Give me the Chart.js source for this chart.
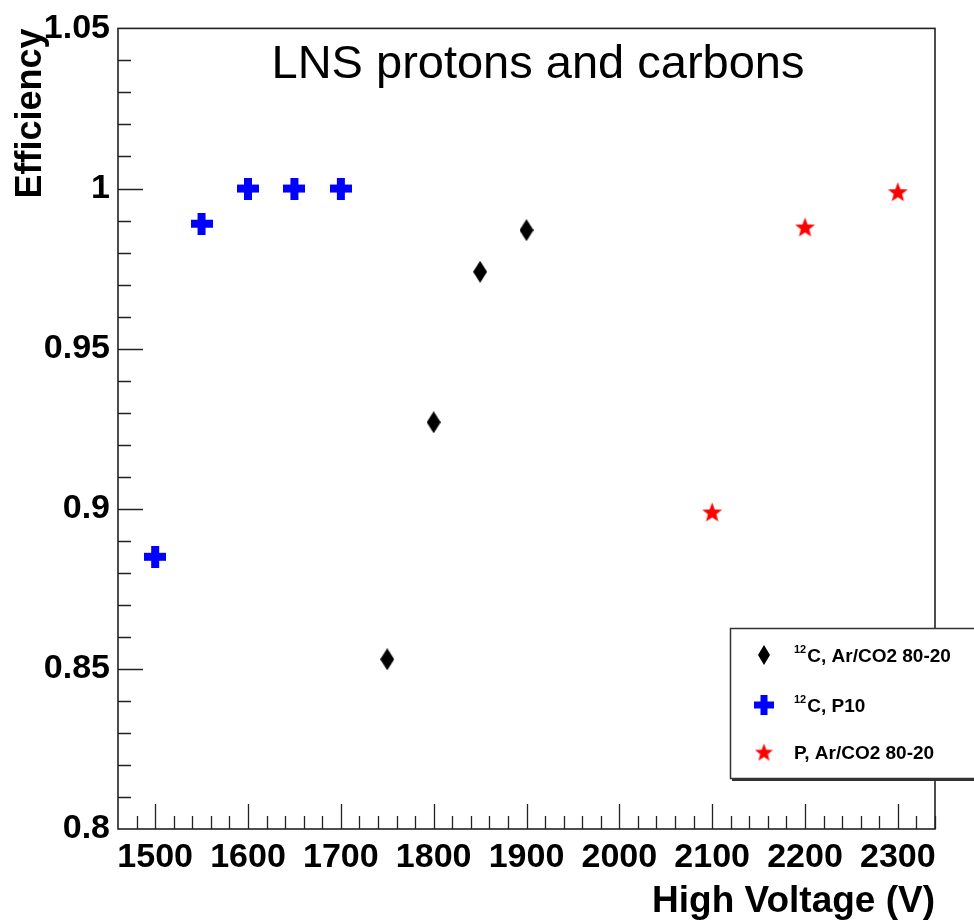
<!DOCTYPE html>
<html>
<head>
<meta charset="utf-8">
<style>
  html, body { margin: 0; padding: 0; background: #fff; }
  #hvChart { display: block; }
</style>
<script src="https://cdn.jsdelivr.net/npm/chart.js@4.4.0/dist/chart.umd.min.js"></script>
</head>
<body>
<canvas id="hvChart" width="974" height="924"></canvas>
<script>
'use strict';

// data
const hvCarbonArCO2 = [1750, 1800, 1850, 1900];
const effCarbonArCO2 = [0.853, 0.927, 0.974, 0.987];

const hvCarbonP10 = [1500, 1550, 1600, 1650, 1700];
const effCarbonP10 = [0.885, 0.989, 1.0, 1.0, 1.0];

const hvProtonArCO2 = [2100, 2200, 2300];
const effProtonArCO2 = [0.899, 0.988, 0.999];

const xTickValues = [1500, 1600, 1700, 1800, 1900, 2000, 2100, 2200, 2300];
const yTickValues = [0.8, 0.85, 0.9, 0.95, 1, 1.05];

const FONT = '"Liberation Sans", Arial, Helvetica, sans-serif';

// marker images (ROOT style markers)
function makeDiamond(w, h) {
    const c = document.createElement('canvas');
    c.width = w; c.height = h;
    const g = c.getContext('2d');
    g.fillStyle = '#000';
    g.beginPath();
    g.moveTo(w / 2, 0);
    g.lineTo(w, h / 2);
    g.lineTo(w / 2, h);
    g.lineTo(0, h / 2);
    g.closePath();
    g.fill();
    return c;
}

function makeCross(s, t) {
    const c = document.createElement('canvas');
    c.width = s; c.height = s;
    const g = c.getContext('2d');
    g.fillStyle = '#0000ff';
    g.fillRect((s - t) / 2, 0, t, s);
    g.fillRect(0, (s - t) / 2, s, t);
    return c;
}

function makeStar(s) {
    const c = document.createElement('canvas');
    c.width = s; c.height = s;
    const g = c.getContext('2d');
    const R = s / 2, r = R * 0.42;
    g.fillStyle = '#ff0000';
    g.beginPath();
    for (let i = 0; i < 10; i++) {
        const a = -Math.PI / 2 + i * Math.PI / 5;
        const rad = i % 2 === 0 ? R : r;
        const px = R + rad * Math.cos(a);
        const py = R + rad * Math.sin(a) + 1;
        if (i === 0) g.moveTo(px, py); else g.lineTo(px, py);
    }
    g.closePath();
    g.fill();
    return c;
}

const diamondImg = makeDiamond(14, 22);
const crossImg = makeCross(22, 8);
const starImg = makeStar(21);

const legendDiamond = makeDiamond(12, 20);
const legendCross = makeCross(20, 7);
const legendStar = makeStar(19);

function toPoints(xs, ys) {
    return xs.map((x, i) => ({ x: x, y: ys[i] }));
}

// frame, inward ticks
const rootFrame = {
    id: 'rootFrame',
    afterDatasetsDraw(chart) {
        const ctx = chart.ctx;
        const a = chart.chartArea;
        const xs = chart.scales.x;
        const ys = chart.scales.y;
        ctx.save();
        ctx.strokeStyle = '#222';
        ctx.lineWidth = 1.6;
        ctx.strokeRect(a.left, a.top, a.right - a.left, a.bottom - a.top);

        ctx.lineWidth = 1.3;
        ctx.beginPath();
        for (let v = 1480; v <= 2340; v += 20) {
            const px = Math.round(xs.getPixelForValue(v)) + 0.5;
            const len = v % 100 === 0 ? 25 : 13;
            ctx.moveTo(px, a.bottom);
            ctx.lineTo(px, a.bottom - len);
        }
        for (let i = 81; i <= 104; i++) {
            const v = i / 100;
            const py = Math.round(ys.getPixelForValue(v)) + 0.5;
            const len = i % 5 === 0 ? 25 : 13;
            ctx.moveTo(a.left, py);
            ctx.lineTo(a.left + len, py);
        }
        ctx.stroke();

        // title
        ctx.fillStyle = '#000';
        ctx.font = '47px ' + FONT;
        ctx.textAlign = 'center';
        ctx.textBaseline = 'alphabetic';
        ctx.fillText('LNS protons and carbons', 538, 78);
        ctx.restore();
    },
    afterDraw(chart) {
        const ctx = chart.ctx;
        ctx.save();
        // legend box
        ctx.fillStyle = '#fff';
        ctx.fillRect(730, 628, 250, 151);
        ctx.strokeStyle = '#333';
        ctx.lineWidth = 1.5;
        ctx.strokeRect(730.5, 628.5, 250, 150);
        ctx.lineWidth = 2;
        ctx.beginPath();
        ctx.moveTo(732, 780);
        ctx.lineTo(980, 780);
        ctx.stroke();

        const entries = [
            { img: legendDiamond, y: 655, text: 'C, Ar/CO2 80-20', sup: '12' },
            { img: legendCross, y: 705, text: 'C, P10', sup: '12' },
            { img: legendStar, y: 752, text: 'P, Ar/CO2 80-20', sup: '' }
        ];
        entries.forEach(e => {
            ctx.drawImage(e.img, 764 - e.img.width / 2, e.y - e.img.height / 2);
            let tx = 794;
            ctx.fillStyle = '#000';
            ctx.textAlign = 'left';
            ctx.textBaseline = 'alphabetic';
            if (e.sup) {
                ctx.font = 'bold 11px ' + FONT;
                ctx.fillText(e.sup, tx, e.y - 2);
                tx += ctx.measureText(e.sup).width + 1;
            }
            ctx.font = 'bold 19px ' + FONT;
            ctx.fillText(e.text, tx, e.y + 7);
        });
        ctx.restore();
    }
};

const yLabel = v => String(Math.round(v * 100) / 100);
const xLabel = v => String(v);

const hvChart = new Chart(document.getElementById('hvChart'), {
    type: 'scatter',
    data: {
        datasets: [
            {
                label: '12C, Ar/CO2 80-20',
                data: toPoints(hvCarbonArCO2, effCarbonArCO2),
                pointStyle: diamondImg,
            },
            {
                label: '12C, P10',
                data: toPoints(hvCarbonP10, effCarbonP10),
                pointStyle: crossImg,
            },
            {
                label: 'P, Ar/CO2 80-20',
                data: toPoints(hvProtonArCO2, effProtonArCO2),
                pointStyle: starImg,
            },
        ],
    },
    options: {
        responsive: false,
        animation: false,
        devicePixelRatio: 1,
        layout: {
            padding: { top: 26, right: 39, left: 0, bottom: 0 },
        },
        plugins: {
            legend: { display: false },
            tooltip: { enabled: false },
        },
        scales: {
            x: {
                type: 'linear',
                min: 1460,
                max: 2340,
                border: { display: false },
                grid: { display: false, drawTicks: false },
                afterBuildTicks: scale => {
                    scale.ticks = xTickValues.map(v => ({ value: v }));
                },
                afterFit: scale => {
                    scale.height = 95;
                },
                ticks: {
                    color: '#000',
                    padding: 8,
                    maxRotation: 0,
                    autoSkip: false,
                    callback: xLabel,
                    font: { family: FONT, size: 34, weight: 'bold' },
                },
                title: {
                    display: true,
                    text: 'High Voltage (V)',
                    align: 'end',
                    color: '#000',
                    padding: { top: 0, bottom: 0 },
                    font: { family: FONT, size: 37, weight: 'bold' },
                },
            },
            y: {
                type: 'linear',
                min: 0.8,
                max: 1.05,
                border: { display: false },
                grid: { display: false, drawTicks: false },
                afterBuildTicks: scale => {
                    scale.ticks = yTickValues.map(v => ({ value: v }));
                },
                afterFit: scale => {
                    scale.width = 118;
                },
                ticks: {
                    color: '#000',
                    padding: 8,
                    autoSkip: false,
                    callback: yLabel,
                    font: { family: FONT, size: 34, weight: 'bold' },
                },
                title: {
                    display: true,
                    text: 'Efficiency',
                    align: 'end',
                    color: '#000',
                    padding: { top: 9, bottom: 0 },
                    font: { family: FONT, size: 36, weight: 'bold' },
                },
            },
        },
    },
    plugins: [rootFrame],
});
</script>
</body>
</html>
